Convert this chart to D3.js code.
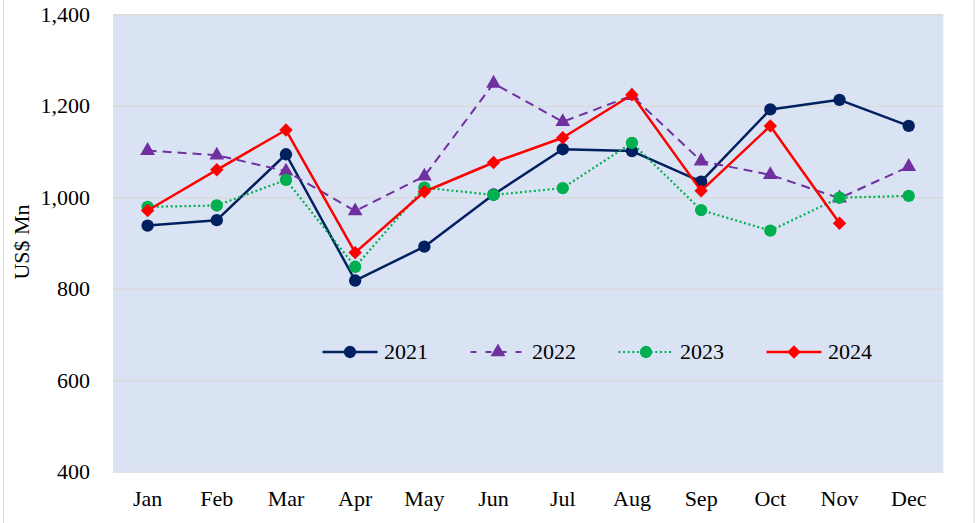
<html>
    <head>
        <meta charset="utf-8">
        <title>Monthly US$ Mn</title>
        <style type="text/css">
            body { margin: 0; background: #fff; }
            text { font-family: "Liberation Serif", "Times New Roman", serif; fill: #000; }
        </style>
        <script src="https://d3js.org/d3.v7.min.js"></script>
    </head>
    <body>
    	<svg width="976" height="523"></svg>
    	<script>
        var months = ["Jan","Feb","Mar","Apr","May","Jun","Jul","Aug","Sep","Oct","Nov","Dec"];
        var years = ["2021","2022","2023","2024"];
        var v2021 = [938, 950, 1094, 818, 892, 1006, 1105, 1101, 1034, 1192, 1213, 1156];
        var v2022 = [1102, 1092, 1057, 970, 1046, 1249, 1165, 1222, 1079, 1049, 998, 1067];
        var v2023 = [979, 982, 1038, 848, 1021, 1005, 1020, 1119, 972, 927, 999, 1003];
        var v2024 = [971, 1060, 1147, 879, 1012, 1076, 1130, 1224, 1014, 1156, 943, null];
        var yTicks = [400, 600, 800, 1000, 1200, 1400];

        var svg = d3.select("svg"),
            margin = {top: 14.3, right: 32.7, bottom: 51.3, left: 113},
            width = +svg.attr("width")-margin.left-margin.right,
            height = +svg.attr("height")-margin.top-margin.bottom;

        // outer chart frame (only the side edges are visible)
        svg.append("line").attr("x1",3.5).attr("x2",3.5).attr("y1",0).attr("y2",523)
            .attr("stroke","#d9d9d9").attr("stroke-width",1);
        svg.append("line").attr("x1",974).attr("x2",974).attr("y1",0).attr("y2",523)
            .attr("stroke","#d9d9d9").attr("stroke-width",1);

        var g = svg.append("g").attr("transform",`translate(${margin.left},${margin.top})`);

        var xScale = d3.scaleBand().domain(months).range([0,width]),
            yScale = d3.scaleLinear().domain([400,1400]).range([height,0]);
        var cx = d => xScale(d) + xScale.bandwidth()/2;

        g.append("rect").attr("width",width).attr("height",height).attr("fill","#dae3f3");

        // y axis + gridlines
        var yAxis = g.append("g")
            .call(d3.axisLeft(yScale).tickValues(yTicks).tickFormat(d3.format(",")).tickSize(-width).tickPadding(23));
        yAxis.select(".domain").remove();
        yAxis.selectAll(".tick line").attr("stroke","#d9d9d9").attr("stroke-width",1.3);
        yAxis.selectAll(".tick text").style("font-size","22px").attr("fill","#000")
            .style("font-family","'Liberation Serif', serif");

        // x axis labels
        var xAxis = g.append("g").attr("transform",`translate(0,${height})`)
            .call(d3.axisBottom(xScale).tickSize(0).tickPadding(19));
        xAxis.select(".domain").remove();
        xAxis.selectAll(".tick text").style("font-size","22px").attr("fill","#000")
            .style("font-family","'Liberation Serif', serif");

        svg.append("text")
            .text("US$ Mn")
            .attr("transform","translate(29,242) rotate(-90)")
            .attr("text-anchor","middle")
            .style("font-size","22px");

        var series = [
            {name:"2021", values:v2021, color:"#002060", dash:null, width:2.5, marker:"circle"},
            {name:"2022", values:v2022, color:"#7030a0", dash:"9,6", width:2, marker:"triangle"},
            {name:"2023", values:v2023, color:"#00b050", dash:"2,2.6", width:2.2, marker:"circle"},
            {name:"2024", values:v2024, color:"#ff0000", dash:null, width:2.5, marker:"diamond"}
        ];
        var symbols = {
            circle: d3.symbol().type(d3.symbolCircle).size(120),
            triangle: d3.symbol().type(d3.symbolTriangle).size(95),
            diamond: d3.symbol().type(d3.symbolSquare).size(90)
        };

        var line = d3.line()
            .defined(d => d.v != null)
            .x(d => cx(d.m))
            .y(d => yScale(d.v));

        series.forEach(s=>{
            var pts = months.map((m,i)=>({m:m, v:s.values[i]}));
            g.append("path")
                .datum(pts)
                .attr("d",line)
                .attr("fill","none")
                .attr("stroke",s.color)
                .attr("stroke-width",s.width)
                .attr("stroke-dasharray",s.dash)
                .attr("stroke-linejoin","round");
            g.append("g")
                .selectAll("path")
                .data(pts.filter(d=>d.v != null))
                .enter()
                .append("path")
                .attr("d",symbols[s.marker])
                .attr("transform",d=>`translate(${cx(d.m)},${yScale(d.v)})` + (s.marker=="diamond" ? " rotate(45)" : ""))
                .attr("fill",s.color);
        });

        // legend
        var legend = svg.append("g")
                .attr("class","legend")
                .attr("transform","translate(322.5,352)")
                    .selectAll("g")
                    .data(series)
                    .enter()
                    .append("g")
                    .attr("transform",(d,i)=>`translate(${i*148},0)`);
        legend.append("line")
                .attr("x1",0).attr("x2",55).attr("y1",0).attr("y2",0)
                .attr("stroke",d=>d.color)
                .attr("stroke-width",d=>d.width)
                .attr("stroke-dasharray",d=>d.name=="2022" ? "6,9" : d.dash);
        legend.append("path")
                .attr("d",d=>symbols[d.marker]())
                .attr("transform",d=>"translate(27.5,0)" + (d.marker=="diamond" ? " rotate(45)" : ""))
                .attr("fill",d=>d.color);
        legend.append("text")
                .text(d=>d.name)
                .attr("x",61.5)
                .attr("y",0)
                .attr("dy","0.34em")
                .style("font-size","22px");
    	</script>
  </body>
</html>
